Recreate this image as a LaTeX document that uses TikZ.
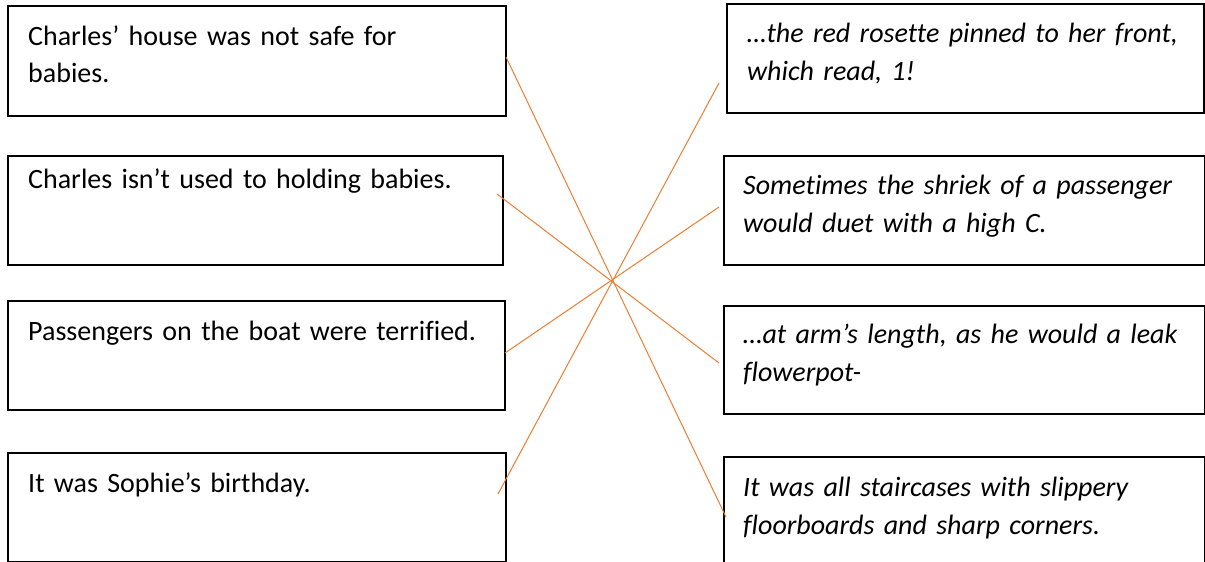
\documentclass[tikz,border=0pt]{standalone}
\usepackage{fontspec}
\setmainfont{Carlito}[Ligatures=NoCommon]
\definecolor{linkorange}{RGB}{237,125,49}
\begin{document}
\begin{tikzpicture}[x=1pt,y=-1pt,
  box/.style={draw=black, line width=1.5pt, rectangle, anchor=north west, inner sep=0pt},
  txt/.style={anchor=base west, inner sep=0pt, align=left, text width=470pt, font=\fontsize{28}{38}\selectfont},
  itxt/.style={txt, font=\fontsize{28}{38}\selectfont\itshape},
  link/.style={draw=linkorange, line width=1pt}]
\useasboundingbox (0,0) rectangle (1205,562);
% left boxes
\node[box, minimum width=498pt, minimum height=110pt] (l1) at (7,5) {};
\node[box, minimum width=495pt, minimum height=109pt] (l2) at (7,155) {};
\node[box, minimum width=497pt, minimum height=109pt] (l3) at (7,300) {};
\node[box, minimum width=498pt, minimum height=109pt] (l4) at (7,452) {};
% right boxes
\node[box, minimum width=477pt, minimum height=109pt] (r1) at (726,3) {};
\node[box, minimum width=481pt, minimum height=109pt] (r2) at (723,155) {};
\node[box, minimum width=481pt, minimum height=108pt] (r3) at (723,305) {};
\node[box, minimum width=481pt, minimum height=120pt] (r4) at (723,456) {};
% texts
\node[txt] (tl1) at (28,45) {Charles’ house was not safe for\\babies.};
\node[txt] (tl2) at (28,188) {Charles isn’t used to holding babies.};
\node[txt] (tl3) at (28,340) {Passengers on the boat were terrified.};
\node[txt] (tl4) at (28,492) {It was Sophie’s birthday.};
\node[itxt] (tr1) at (747,42) {…the red rosette pinned to her front,\\which read, 1!};
\node[itxt] (tr2) at (743,194) {Sometimes the shriek of a passenger\\would duet with a high C.};
\node[itxt] (tr3) at (743,343) {…at arm’s length, as he would a leak\\flowerpot-};
\node[itxt] (tr4) at (743,496) {It was all staircases with slippery\\floorboards and sharp corners.};
% connector ends
\coordinate (a1) at (506,57);  \coordinate (b1) at (726,517);
\coordinate (a2) at (497,194); \coordinate (b2) at (719,363);
\coordinate (a3) at (505,353); \coordinate (b3) at (719,207);
\coordinate (a4) at (498,494); \coordinate (b4) at (719,83);
\draw[link] (a1) -- (b1);
\draw[link] (a2) -- (b2);
\draw[link] (a3) -- (b3);
\draw[link] (a4) -- (b4);
\end{tikzpicture}
\end{document}
